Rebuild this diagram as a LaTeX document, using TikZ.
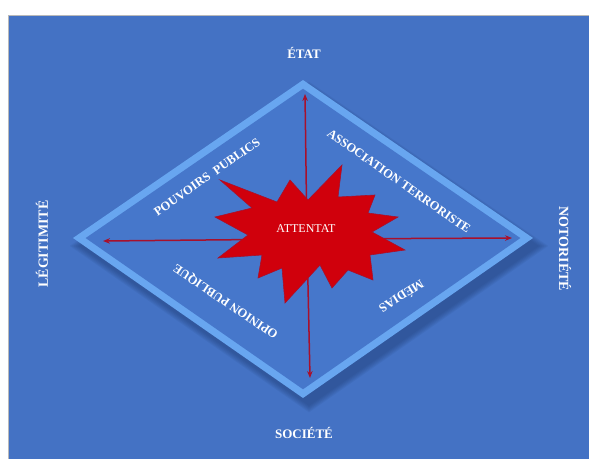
\documentclass[tikz,border=0pt]{standalone}
\usepackage{fontspec}
\setmainfont{Liberation Serif}
\usetikzlibrary{arrows.meta}
\definecolor{bg}{HTML}{4472C4}
\definecolor{bevel}{HTML}{68A6F0}
\definecolor{innerblue}{HTML}{4677CB}
\definecolor{starred}{HTML}{D0000C}
\definecolor{rayred}{HTML}{A8102C}
\definecolor{shadowblue}{HTML}{1E3A70}
\begin{document}
\begin{tikzpicture}[x=1pt,y=-1pt,
  edgelab/.style={text=white,font=\bfseries\fontsize{13}{13}\selectfont,inner sep=0pt},
  sidelab/.style={text=white,font=\bfseries\fontsize{14}{14}\selectfont,inner sep=0pt},
  diaglab/.style={text=white,font=\bfseries\fontsize{12.5}{12.5}\selectfont,inner sep=0pt},
  ray/.style={draw=rayred,line width=1.5pt,-{Stealth[length=7pt,width=5.5pt]}},
]
\useasboundingbox (0,0) rectangle (589,459);
\fill[white] (0,0) rectangle (589,459);
\fill[bg] (8,15) rectangle (589,459);
\draw[gray!55,line width=0.8pt] (8,459) -- (8,15) -- (589,15);

% diamond shadow
\foreach \s in {1.000,1.008,1.016,1.024,1.032,1.040}{
  \fill[shadowblue,opacity=0.09,shift={(309,247)},scale=\s]
    (0,-159) -- (230,-1) -- (0,159) -- (-230,-1) -- cycle;
}
% diamond bevel
\fill[bevel] (303,80) -- (533,238) -- (303,398) -- (73,238) -- cycle;
\fill[innerblue,shift={(303,239)},scale=0.945]
    (0,-159) -- (230,-1) -- (0,159) -- (-230,-1) -- cycle;

% rays
\coordinate (c) at (307,239);
\coordinate (tup) at (305,94);
\coordinate (tdown) at (310,378);
\coordinate (tleft) at (103,241);
\coordinate (tright) at (512,238);
\draw[ray] (c) -- (tup);
\draw[ray] (c) -- (tdown);
\draw[ray] (c) -- (tleft);
\draw[ray] (c) -- (tright);

% star
\fill[starred,draw=rayred,line width=0.6pt,line join=miter]
  (220,180) -- (277,202) -- (290,180) -- (308,200) -- (342,165) -- (338,197)
  -- (375,195) -- (368,213) -- (398,217) -- (372,232) -- (405,250) -- (370,255)
  -- (373,280) -- (348,270) -- (332,288) -- (320,265) -- (285,303) -- (282,268)
  -- (258,278) -- (262,255) -- (218,258) -- (248,235) -- (215,217) -- (252,208) -- cycle;
\node[text=white,font=\fontsize{12}{12}\selectfont,inner sep=0pt] (att) at (306,229) {ATTENTAT};

% labels
\node[edgelab] (etat) at (304,53) {ÉTAT};
\node[edgelab] (societe) at (304,433) {SOCIÉTÉ};
\node[sidelab,rotate=90] (legit) at (42,244) {LÉGITIMITÉ};
\node[sidelab,rotate=-90] (notor) at (565,249) {NOTORIÉTÉ};

\node[diaglab,rotate=35] (pouv) at (207,177) {POUVOIRS\ \ PUBLICS};
\node[diaglab,rotate=-35] (assoc) at (399,181) {ASSOCIATION TERRORISTE};
\node[diaglab,rotate=146] (opin) at (226,301) {OPINION PUBLIQUE};
\node[diaglab,rotate=212] (medias) at (402,297) {MÉDIAS};
\end{tikzpicture}
\end{document}
